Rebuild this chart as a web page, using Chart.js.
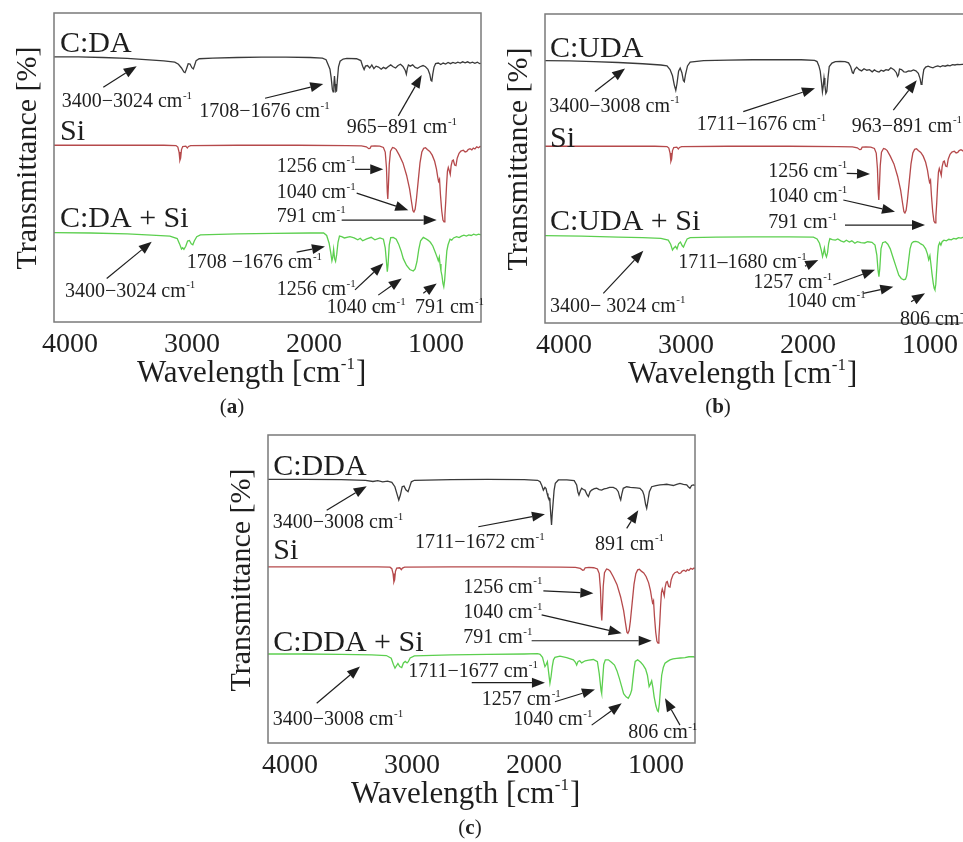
<!DOCTYPE html>
<html>
<head>
<meta charset="utf-8">
<script src="https://cdn.jsdelivr.net/npm/chart.js@4.4.1/dist/chart.umd.min.js"></script>
<style>
  html, body { margin: 0; padding: 0; background: #fff; overflow: hidden; width: 963px; height: 842px; }
  canvas { position: absolute; }
  .cap { position: absolute; width: 60px; text-align: center; font: 21px 'Liberation Serif', serif; color: #222; }
</style>
</head>
<body>
<canvas id="pa" width="490" height="400" style="left:0;top:0"></canvas>
<canvas id="pb" width="490" height="400" style="left:490px;top:0"></canvas>
<canvas id="pc" width="490" height="400" style="left:214px;top:422px"></canvas>
<div class="cap" style="left:202px;top:394px">(<b>a</b>)</div>
<div class="cap" style="left:688px;top:394px">(<b>b</b>)</div>
<div class="cap" style="left:440px;top:815px">(<b>c</b>)</div>
<script>
// wavenumber [cm-1], stacked transmittance (arbitrary offset units)
const xTicks = [4000, 3000, 2000, 1000];

// Si reference spectrum (same sample in all three panels)
const siAll = [[4000,57.2],[3500,57.2],[3100,57.2],[3000,57.1],[2985,56.6],[2975,55.0],[2968,52.3],[2962,53.0],[2955,55.8],[2945,56.8],[2920,56.9],[2907,56.3],[2898,56.8],[2880,57.1],[2500,57.2],[2000,57.2],[1600,57.1],[1480,57.0],[1440,56.7],[1420,56.1],[1410,56.2],[1400,56.9],[1370,57.0],[1330,56.9],[1300,56.5],[1285,55.0],[1275,50.0],[1268,42.0],[1264,39.8],[1259,44.0],[1252,51.0],[1242,55.3],[1225,56.5],[1210,56.3],[1195,55.8],[1170,54.0],[1140,51.5],[1110,47.5],[1085,43.0],[1070,39.0],[1058,36.0],[1050,35.6],[1040,36.5],[1030,39.5],[1015,45.5],[1000,51.5],[985,55.0],[970,56.2],[955,56.4],[940,55.8],[920,55.2],[900,54.0],[880,52.0],[865,49.5],[855,47.0],[848,45.5],[840,46.2],[832,41.0],[822,36.0],[812,33.0],[803,32.4],[796,34.5],[789,39.0],[782,44.5],[775,48.8],[768,50.0],[760,49.0],[752,47.8],[745,50.5],[735,52.2],[727,52.4],[716,50.8],[705,50.6],[695,53.0],[680,54.6],[665,55.3],[645,55.6],[630,55.0],[617,55.2],[605,55.8],[590,56.1],[575,55.7],[563,56.3],[550,56.0],[535,56.7],[520,56.4],[508,56.8],[500,56.7]];

// panel (a)
const aDA = [[4000,85.8],[3800,85.8],[3600,85.6],[3400,85.3],[3250,84.9],[3100,84.5],[3010,84.1],[2980,83.4],[2955,82.2],[2935,80.9],[2926,80.7],[2915,81.8],[2900,83.6],[2885,83.5],[2870,82.3],[2858,81.9],[2848,83.0],[2835,84.6],[2810,85.2],[2700,85.4],[2500,85.6],[2300,85.7],[2100,85.7],[1900,85.6],[1800,85.4],[1770,84.9],[1752,83.2],[1738,81.8],[1728,79.0],[1718,75.2],[1712,74.5],[1706,76.8],[1701,79.6],[1696,77.0],[1690,74.6],[1684,74.8],[1677,78.5],[1668,82.6],[1655,84.4],[1630,85.1],[1600,85.3],[1520,85.2],[1485,84.6],[1470,82.8],[1458,81.7],[1447,82.8],[1430,83.0],[1412,82.2],[1395,83.2],[1378,82.0],[1360,82.8],[1340,82.5],[1318,81.8],[1300,82.4],[1280,82.0],[1262,82.6],[1240,83.2],[1220,82.6],[1200,82.2],[1180,83.0],[1160,83.4],[1140,82.7],[1122,81.5],[1112,80.2],[1104,82.0],[1095,83.2],[1080,82.8],[1060,83.2],[1040,82.4],[1020,82.1],[1000,82.6],[975,83.0],[955,82.6],[935,81.8],[920,80.2],[910,78.2],[903,78.0],[895,80.3],[885,82.5],[872,83.6],[850,83.8],[830,83.3],[810,83.8],[790,83.5],[770,84.0],[750,83.6],[730,84.0],[710,83.7],[690,84.1],[670,83.8],[650,84.2],[630,83.9],[610,84.2],[590,83.8],[570,84.1],[550,83.7],[530,84.1],[510,83.6],[500,83.7]];
const aDASi = [[4000,28.9],[3700,28.8],[3400,28.5],[3200,28.1],[3050,27.8],[2990,27.0],[2970,25.2],[2955,23.6],[2945,24.0],[2935,23.5],[2920,24.5],[2905,26.2],[2890,26.4],[2875,25.3],[2862,25.0],[2850,26.2],[2830,27.6],[2800,28.2],[2500,28.5],[2200,28.7],[1900,28.8],[1790,28.8],[1765,28.0],[1745,25.5],[1732,22.5],[1722,19.8],[1715,21.0],[1708,23.5],[1700,20.5],[1692,19.6],[1683,21.8],[1672,25.8],[1660,27.8],[1642,27.6],[1620,27.2],[1574,27.6],[1540,27.2],[1510,26.6],[1490,27.1],[1470,26.3],[1437,26.9],[1400,27.4],[1370,26.6],[1328,27.2],[1300,26.8],[1285,24.0],[1275,19.5],[1268,16.3],[1262,18.5],[1252,25.0],[1240,27.3],[1219,27.4],[1195,26.8],[1175,25.2],[1155,23.0],[1137,20.5],[1110,18.3],[1083,17.0],[1055,16.5],[1040,17.2],[1025,19.5],[1010,23.5],[995,26.3],[973,27.4],[955,27.0],[935,26.5],[915,25.8],[895,24.6],[875,22.6],[860,21.0],[850,19.8],[842,21.0],[836,18.8],[828,16.5],[820,15.0],[812,12.5],[805,11.4],[798,13.5],[790,18.0],[780,23.0],[770,25.0],[754,26.8],[740,26.5],[725,27.2],[700,27.6],[680,27.3],[660,27.8],[640,28.1],[620,27.8],[600,28.2],[580,28.0],[560,28.4],[540,28.1],[520,28.4],[500,28.2]];

// panel (b)
const bUDA = [[4000,84.9],[3800,84.8],[3600,84.6],[3400,84.3],[3200,83.9],[3050,83.5],[3000,83.2],[2975,82.0],[2955,80.0],[2940,77.0],[2928,75.3],[2918,77.5],[2905,81.5],[2892,82.5],[2878,81.0],[2866,78.5],[2858,78.1],[2848,80.5],[2832,83.2],[2810,84.4],[2700,84.9],[2500,85.1],[2300,85.2],[2100,85.2],[1900,85.2],[1790,85.0],[1770,84.6],[1755,83.2],[1744,81.5],[1734,78.0],[1726,74.8],[1720,76.5],[1713,79.3],[1706,77.0],[1698,74.3],[1690,75.0],[1680,79.5],[1670,83.0],[1648,84.1],[1620,84.6],[1580,84.7],[1540,84.6],[1512,84.2],[1495,83.0],[1480,81.0],[1472,80.8],[1462,82.0],[1445,82.8],[1425,82.0],[1405,81.6],[1385,82.3],[1362,81.8],[1340,82.0],[1318,81.3],[1300,81.9],[1280,81.4],[1262,81.2],[1245,81.8],[1225,81.5],[1205,82.0],[1185,81.8],[1165,82.6],[1140,82.0],[1120,81.0],[1110,79.8],[1102,80.3],[1094,82.2],[1078,82.0],[1058,81.3],[1040,81.2],[1020,81.6],[1000,81.5],[980,81.9],[960,81.6],[940,80.8],[925,79.0],[917,77.2],[910,77.5],[903,80.0],[895,82.0],[880,82.8],[860,83.1],[840,82.8],[820,82.6],[800,83.0],[780,83.2],[760,82.9],[740,83.3],[720,83.1],[700,83.4],[680,83.2],[660,83.6],[640,83.5],[620,83.7],[600,83.6],[560,83.8],[520,83.9],[500,83.8]];
const bUDASi = [[4000,28.3],[3700,28.1],[3400,27.8],[3200,27.6],[3050,27.4],[2990,26.8],[2970,25.5],[2955,23.6],[2945,24.2],[2930,24.8],[2918,24.0],[2905,25.6],[2890,26.2],[2875,25.0],[2865,24.6],[2852,25.8],[2835,27.2],[2810,27.6],[2600,27.8],[2300,27.9],[2000,27.9],[1800,27.8],[1770,27.2],[1750,25.8],[1735,23.5],[1725,21.5],[1717,22.8],[1710,24.2],[1702,22.3],[1693,21.4],[1684,22.8],[1675,25.8],[1665,27.3],[1645,27.0],[1620,26.8],[1600,27.2],[1575,26.6],[1550,26.2],[1530,26.8],[1505,26.2],[1485,26.6],[1460,25.8],[1440,26.3],[1410,26.0],[1380,25.9],[1355,26.3],[1320,26.1],[1295,25.2],[1280,22.0],[1270,17.0],[1263,15.0],[1256,17.5],[1246,24.0],[1232,26.0],[1210,26.3],[1190,25.5],[1170,24.0],[1150,21.5],[1125,18.5],[1100,15.5],[1080,14.4],[1060,14.0],[1045,14.2],[1035,15.3],[1022,19.5],[1008,24.0],[995,25.8],[980,26.3],[960,26.4],[940,26.2],[920,25.6],[900,25.2],[880,24.0],[865,22.3],[855,20.5],[845,21.8],[838,19.5],[828,16.0],[818,13.0],[810,11.2],[804,10.7],[797,12.5],[790,17.0],[782,22.0],[775,25.0],[765,26.0],[755,25.2],[745,26.3],[730,26.8],[710,26.6],[690,27.1],[670,26.9],[650,27.4],[630,27.2],[610,27.6],[590,27.5],[570,27.8],[540,27.7],[520,28.0],[500,27.9]];

// panel (c)
const cDDA = [[4000,85.6],[3700,85.6],[3400,85.5],[3200,85.3],[3140,84.9],[3100,85.2],[3060,84.8],[3020,85.0],[2985,84.6],[2960,83.2],[2940,80.5],[2928,78.9],[2915,80.5],[2900,83.2],[2885,83.4],[2870,82.2],[2852,81.6],[2840,83.0],[2825,84.8],[2800,85.3],[2500,85.5],[2200,85.6],[1900,85.5],[1790,85.3],[1770,84.8],[1755,83.5],[1743,82.1],[1730,83.0],[1721,82.6],[1712,81.0],[1705,80.0],[1695,79.5],[1689,78.4],[1682,74.0],[1676,70.8],[1670,74.5],[1662,78.5],[1655,82.0],[1645,84.3],[1620,85.4],[1550,85.4],[1490,85.2],[1470,83.8],[1460,81.5],[1451,80.5],[1440,81.8],[1429,82.7],[1415,82.3],[1402,82.1],[1385,80.6],[1374,80.0],[1360,81.6],[1347,82.1],[1325,82.6],[1306,82.7],[1285,82.3],[1265,82.1],[1245,82.5],[1224,82.7],[1200,83.0],[1170,83.0],[1145,82.5],[1129,81.6],[1115,79.5],[1109,78.9],[1100,80.8],[1088,82.7],[1060,83.2],[1030,83.0],[1006,82.9],[980,82.8],[951,82.7],[930,81.8],[918,80.5],[905,77.5],[896,76.2],[886,78.5],[874,81.6],[855,83.2],[820,83.6],[787,83.8],[760,83.9],[732,84.0],[705,83.8],[678,83.6],[650,84.0],[623,84.3],[595,84.0],[568,83.8],[555,83.2],[541,82.7],[528,83.6],[514,83.8],[500,83.6]];
const cDDASi = [[4000,28.9],[3700,28.9],[3400,28.8],[3150,28.6],[3030,28.4],[2990,27.5],[2972,25.5],[2959,24.3],[2948,25.0],[2935,25.8],[2920,24.8],[2904,24.5],[2890,26.0],[2875,26.5],[2860,26.0],[2850,26.4],[2835,27.6],[2800,28.3],[2500,28.6],[2200,28.8],[1900,28.9],[1790,29.0],[1770,28.8],[1750,27.8],[1738,26.0],[1730,24.8],[1720,25.5],[1710,26.4],[1700,23.0],[1689,19.4],[1680,21.5],[1670,24.8],[1660,27.0],[1648,27.8],[1607,28.2],[1552,27.7],[1497,27.0],[1480,26.2],[1470,25.3],[1458,26.5],[1445,26.7],[1429,26.0],[1400,26.7],[1370,26.9],[1333,27.1],[1300,26.4],[1285,22.5],[1270,17.0],[1265,16.1],[1258,20.0],[1248,25.5],[1235,27.0],[1210,27.0],[1185,26.2],[1160,25.3],[1140,23.5],[1120,21.0],[1101,18.3],[1085,16.0],[1065,15.0],[1047,14.5],[1030,15.8],[1019,17.2],[1010,20.5],[1000,24.0],[990,26.5],[970,27.0],[945,26.2],[925,25.3],[905,24.0],[890,22.0],[876,18.3],[865,19.2],[855,20.2],[845,18.0],[835,15.0],[820,12.0],[808,10.5],[801,10.2],[792,12.8],[785,16.5],[773,22.0],[760,24.5],[746,25.9],[725,26.5],[705,27.0],[680,27.3],[650,27.5],[620,27.6],[582,27.7],[550,28.0],[514,28.0],[500,27.9]];

// series names [text, wavenumber, value]
const aNames = [['C:DA', 3951, 87.4], ['Si', 3951, 58.9], ['C:DA + Si', 3951, 30.7]];
const bNames = [['C:UDA', 3959, 86.2], ['Si', 3959, 57.1], ['C:UDA + Si', 3959, 30.1]];
const cNames = [['C:DDA', 3957, 87.0], ['Si', 3957, 59.8], ['C:DDA + Si', 3957, 30.0]];

// peak notes: text (^ = superscript), text anchor, arrow tail, arrow head
const aNotes = [
  ['3400−3024 cm^-1', [3937,69.5], [3596,76.0], [3322,82.8]],
  ['1708−1676 cm^-1', [2809,66.2], [2270,72.4], [1793,77.0]],
  ['965−891 cm^-1', [1601,61.1], [1178,66.7], [986,79.9]],
  ['1256 cm^-1', [2175,48.6], [1533,49.4], [1301,49.4]],
  ['1040 cm^-1', [2175,40.0], [1519,41.7], [1096,36.2]],
  ['791 cm^-1', [2175,32.5], [1642,33.0], [863,33.0]],
  ['3400−3024 cm^-1', [3910,8.2], [3568,14.1], [3199,26.0]],
  ['1708 −1676 cm^-1', [2912,17.4], [2011,22.6], [1779,24.4]],
  ['1256 cm^-1', [2175,8.7], [1533,10.4], [1301,19.0]],
  ['1040 cm^-1', [1765,2.8], [1342,8.7], [1150,14.1]],
  ['791 cm^-1', [1041,2.8], [973,9.3], [863,12.5]]
];
const bNotes = [
  ['3400−3008 cm^-1', [3965,68.4], [3590,74.9], [3344,82.4]],
  ['1711−1676 cm^-1', [2757,62.5], [2375,68.4], [1787,76.0]],
  ['963−891 cm^-1', [1486,61.9], [1145,68.9], [953,78.6]],
  ['1256 cm^-1', [2170,47.3], [1527,48.4], [1336,48.2]],
  ['1040 cm^-1', [2170,39.3], [1555,39.8], [1131,36.0]],
  ['791 cm^-1', [2170,30.6], [1541,31.7], [885,31.7]],
  ['3400− 3024 cm^-1', [3959,3.7], [3522,9.6], [3194,23.4]],
  ['1711–1680 cm^-1', [2907,17.7], [1869,18.4], [1760,20.4]],
  ['1257 cm^-1', [2293,11.2], [1637,12.3], [1295,17.2]],
  ['1040 cm^-1', [2019,5.3], [1391,9.6], [1145,11.7]],
  ['806 cm^-1', [1090,-0.6], [999,6.9], [885,9.6]]
];
const cNotes = [
  ['3400−3008 cm^-1', [3961,69.7], [3519,75.6], [3191,83.4]],
  ['1711−1672 cm^-1', [2795,63.2], [2276,70.2], [1730,74.3]],
  ['891 cm^-1', [1320,62.7], [1060,69.7], [965,75.6]],
  ['1256 cm^-1', [2399,48.8], [1743,49.4], [1333,48.6]],
  ['1040 cm^-1', [2399,40.5], [1757,41.6], [1101,35.6]],
  ['791 cm^-1', [2399,32.4], [1839,33.2], [855,33.2]],
  ['3400−3008 cm^-1', [3961,5.8], [3601,12.9], [3246,24.8]],
  ['1711−1677 cm^-1', [2850,21.5], [2330,19.6], [1730,19.6]],
  ['1257 cm^-1', [2248,12.3], [1648,13.4], [1320,17.4]],
  ['1040 cm^-1', [1989,5.8], [1347,5.8], [1101,12.9]],
  ['806 cm^-1', [1047,1.5], [623,5.8], [746,14.5]]
];

const SERIF = "'Liberation Serif', 'Times New Roman', serif";
const INK = '#1e1e1e';

function toXY(pts) {
  return pts.map(p => ({x: p[0], y: p[1]}));
}

// draws "main^sup" starting at x (left) on baseline y, returns width
function supText(ctx, str, x, y, size, draw) {
  const parts = str.split('^');
  ctx.font = size + 'px ' + SERIF;
  const w1 = ctx.measureText(parts[0]).width;
  let w2 = 0;
  const ss = Math.round(size * 0.55);
  if (parts[1]) {
    ctx.font = ss + 'px ' + SERIF;
    w2 = ctx.measureText(parts[1]).width;
  }
  if (draw) {
    ctx.font = size + 'px ' + SERIF;
    ctx.fillText(parts[0], x, y);
    if (parts[1]) {
      ctx.font = ss + 'px ' + SERIF;
      ctx.fillText(parts[1], x + w1 + 0.5, y - size * 0.42);
    }
  }
  return w1 + w2 + 0.5;
}

function arrow(ctx, x1, y1, x2, y2) {
  const a = Math.atan2(y2 - y1, x2 - x1);
  const len = 13, half = 5;
  const bx = x2 - len * Math.cos(a), by = y2 - len * Math.sin(a);
  ctx.beginPath();
  ctx.moveTo(x1, y1);
  ctx.lineTo(bx, by);
  ctx.stroke();
  ctx.beginPath();
  ctx.moveTo(x2, y2);
  ctx.lineTo(bx + half * Math.sin(a), by - half * Math.cos(a));
  ctx.lineTo(bx - half * Math.sin(a), by + half * Math.cos(a));
  ctx.closePath();
  ctx.fill();
}

const decor = {
  id: 'decor',
  afterDraw(chart, args, opts) {
    const {ctx, chartArea: ca} = chart;
    const xs = chart.scales.x, ys = chart.scales.y;
    const px = w => xs.getPixelForValue(w);
    const py = v => ys.getPixelForValue(v);
    ctx.save();
    // frame
    ctx.strokeStyle = '#7a7a7a';
    ctx.lineWidth = 1.5;
    ctx.strokeRect(ca.left, ca.top, ca.right - ca.left, ca.bottom - ca.top);

    ctx.fillStyle = INK;
    ctx.strokeStyle = INK;
    ctx.textBaseline = 'alphabetic';
    ctx.textAlign = 'left';
    // series names
    ctx.font = '30px ' + SERIF;
    opts.names.forEach(n => ctx.fillText(n[0], px(n[1]), py(n[2])));
    // peak notes
    ctx.lineWidth = 1.2;
    opts.notes.forEach(n => {
      supText(ctx, n[0], px(n[1][0]), py(n[1][1]), 20, true);
      arrow(ctx, px(n[2][0]), py(n[2][1]), px(n[3][0]), py(n[3][1]));
    });
    // x title
    const xt = 'Wavelength [cm^-1';
    const w = supText(ctx, xt, 0, 0, 31, false) + 10;
    const x0 = ca.left + 197 - w / 2;
    const wm = supText(ctx, xt, x0, ca.bottom + 60, 31, true);
    ctx.font = '31px ' + SERIF;
    ctx.fillText(']', x0 + wm + 1, ca.bottom + 60);
    // y title
    ctx.save();
    ctx.translate(ca.left - 26, ca.top + 145);
    ctx.rotate(-Math.PI / 2);
    ctx.textAlign = 'center';
    ctx.textBaseline = 'middle';
    ctx.font = '30px ' + SERIF;
    ctx.fillText('Transmittance [%]', 0, 0);
    ctx.restore();
    ctx.restore();
  }
};

function makePanel(id, sets, names, notes, pad, xHeight, labelOffset) {
  const colors = ['#3a3a3a', '#b5494b', '#5ccf4f'];
  new Chart(document.getElementById(id), {
    type: 'line',
    data: {
      datasets: sets.map((s, i) => ({
        data: toXY(s),
        borderColor: colors[i],
        borderWidth: 1.3,
        pointRadius: 0,
        tension: 0,
        fill: false
      }))
    },
    options: {
      responsive: false,
      animation: false,
      events: [],
      layout: {padding: pad},
      plugins: {
        legend: {display: false},
        tooltip: {enabled: false},
        decor: {names: names, notes: notes}
      },
      scales: {
        x: {
          type: 'linear',
          reverse: true,
          min: 500,
          max: 4000,
          afterBuildTicks: s => { s.ticks = xTicks.map(v => ({value: v})); },
          afterFit: s => { s.height = xHeight; },
          grid: {display: false, drawTicks: false},
          border: {display: false},
          ticks: {
            color: INK,
            font: {family: SERIF, size: 28},
            padding: 6,
            labelOffset: labelOffset,
            maxRotation: 0,
            autoSkip: false,
            callback: v => String(v)
          }
        },
        y: {
          min: 0,
          max: 100,
          afterFit: s => { s.width = 50; },
          grid: {display: false, drawTicks: false},
          border: {display: false},
          ticks: {display: false}
        }
      }
    },
    plugins: [decor]
  });
}

makePanel('pa', [aDA, siAll, aDASi], aNames, aNotes, {left: 4, top: 13, right: 9, bottom: 0}, 78, 16);
makePanel('pb', [bUDA, siAll, bUDASi], bNames, bNotes, {left: 5, top: 14, right: 8, bottom: 0}, 77, 19);
makePanel('pc', [cDDA, siAll, cDDASi], cNames, cNotes, {left: 4, top: 13, right: 9, bottom: 0}, 79, 22);
</script>
</body>
</html>
